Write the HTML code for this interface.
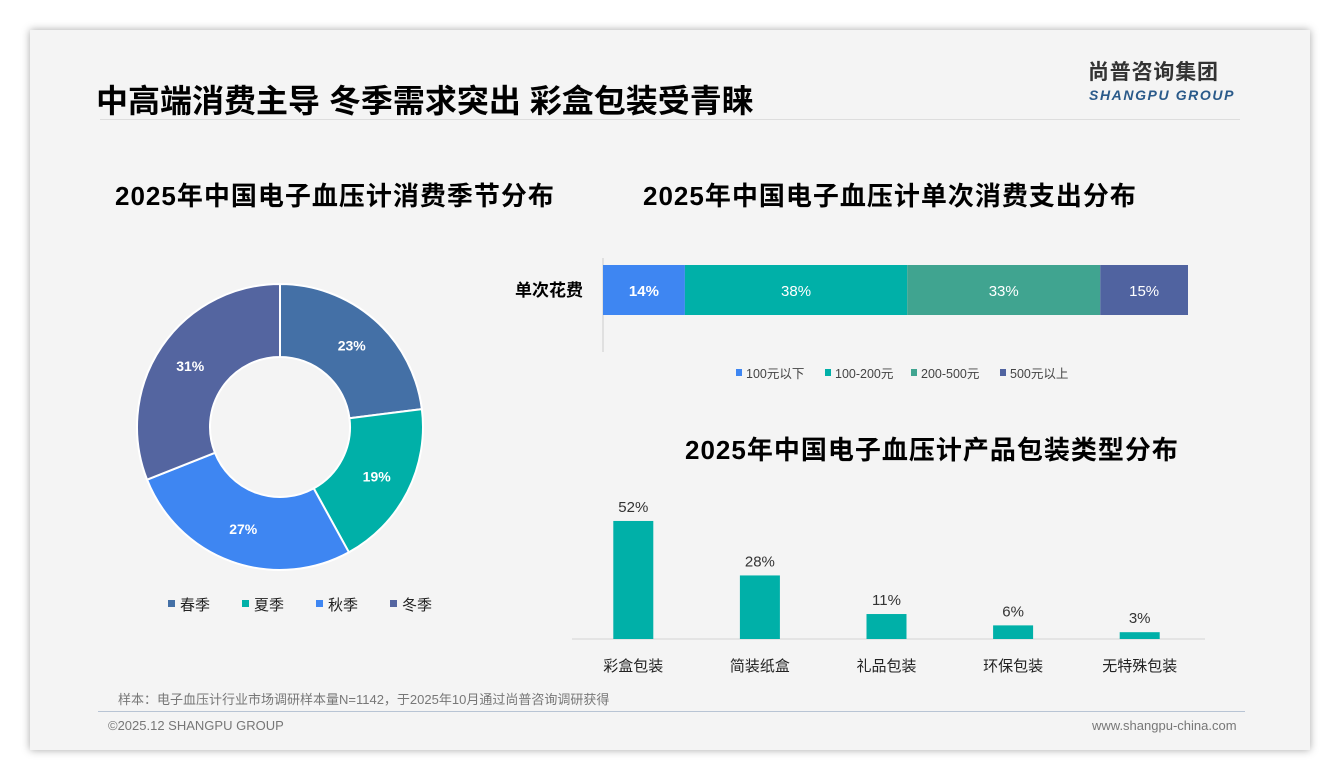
<!DOCTYPE html>
<html><head><meta charset="utf-8">
<style>
body{margin:0;width:1340px;height:780px;background:#fff;position:relative;overflow:hidden;font-family:"Liberation Sans","Noto Sans CJK SC",sans-serif}
.card{position:absolute;left:30px;top:30px;width:1280px;height:720px;background:#f4f4f4;box-shadow:0 0 8px rgba(0,0,0,0.35)}
.t{position:absolute;white-space:nowrap}
</style></head><body>
<div class="card"></div>
<div class="t" style="left:96px;top:76px;font-size:32px;font-weight:bold;color:#000;letter-spacing:0px">中高端消费主导 冬季需求突出 彩盒包装受青睐</div>
<div class="t" style="left:1088px;top:60px;font-size:21px;font-weight:bold;color:#333;letter-spacing:0.8px;line-height:26px">尚普咨询集团</div>
<div class="t" style="left:1089px;top:87px;font-size:14px;font-weight:bold;font-style:italic;color:#2a5a8a;letter-spacing:1.6px;line-height:17px">SHANGPU GROUP</div>
<div style="position:absolute;left:100px;top:119px;width:1140px;height:1px;background:#ddd"></div>
<div class="t" style="left:115px;top:176px;font-size:26px;font-weight:bold;letter-spacing:1px">2025年中国电子血压计消费季节分布</div>
<div class="t" style="left:643px;top:176px;font-size:26px;font-weight:bold;letter-spacing:1px">2025年中国电子血压计单次消费支出分布</div>
<div class="t" style="left:685px;top:430px;font-size:26px;font-weight:bold;letter-spacing:1px">2025年中国电子血压计产品包装类型分布</div>
<svg id="chart" width="1340" height="780" style="position:absolute;left:0;top:0"></svg>
<div class="t" style="left:118px;top:689px;font-size:13px;color:#777">样本：电子血压计行业市场调研样本量N=1142，于2025年10月通过尚普咨询调研获得</div>
<div style="position:absolute;left:98px;top:711px;width:1147px;height:1px;background:#b8c4d4"></div>
<div class="t" style="left:108px;top:718px;font-size:13px;color:#777">©2025.12 SHANGPU GROUP</div>
<div class="t" style="left:1092px;top:718px;font-size:13px;color:#777">www.shangpu-china.com</div>
<script>
const seasons=["春季","夏季","秋季","冬季"];
const seasonValues=[23,19,27,31];
const seasonColors=["#4470a6","#00b0a8","#3e86f2","#5465a0"];
const spendCats=["100元以下","100-200元","200-500元","500元以上"];
const spendValues=[14,38,33,15];
const spendColors=["#3e86f2","#00b0a8","#40a490","#5063a0"];
const packCats=["彩盒包装","简装纸盒","礼品包装","环保包装","无特殊包装"];
const packValues=[52,28,11,6,3];
const NS="http://www.w3.org/2000/svg";
const svg=document.getElementById('chart');
function mk(tag,attrs,parent){const e=document.createElementNS(NS,tag);for(const k in attrs)e.setAttribute(k,attrs[k]);(parent||svg).appendChild(e);return e;}
const cx=280,cy=427,R=143,r=70;
const tot=seasonValues.reduce((a,b)=>a+b,0);
let acc=0;
seasonValues.forEach((v,i)=>{
  const a0=acc/tot*2*Math.PI-Math.PI/2;acc+=v;const a1=acc/tot*2*Math.PI-Math.PI/2;
  const lg=(a1-a0)>Math.PI?1:0;
  const p=`M${cx+R*Math.cos(a0)},${cy+R*Math.sin(a0)}A${R},${R} 0 ${lg} 1 ${cx+R*Math.cos(a1)},${cy+R*Math.sin(a1)}L${cx+r*Math.cos(a1)},${cy+r*Math.sin(a1)}A${r},${r} 0 ${lg} 0 ${cx+r*Math.cos(a0)},${cy+r*Math.sin(a0)}Z`;
  const s=mk('path',{d:p,fill:seasonColors[i],stroke:'#fff','stroke-width':2});
  
  
  const am=(a0+a1)/2,rm=(R+r)/2+2;
  const t=mk('text',{x:cx+rm*Math.cos(am),y:cy+rm*Math.sin(am)+5,'text-anchor':'middle','font-size':14,'font-weight':'bold',fill:'#fff'});
  t.textContent=v+'%';
  
  
});
const lx=[168,242,316,390];
seasons.forEach((s,i)=>{
  const q=mk('rect',{x:lx[i],y:600,width:7,height:7,fill:seasonColors[i]});
  
  
  const t=mk('text',{x:lx[i]+12,y:610,'font-size':15,fill:'#222'});t.textContent=s;
  
  
});
const bx0=603,bw=585,by=265,bh=50;
mk('line',{x1:bx0,y1:258,x2:bx0,y2:352,stroke:'#ccc'});
const yl=mk('text',{x:583,y:296,'text-anchor':'end','font-size':17,'font-weight':'bold'});yl.textContent='单次花费';


const stot=spendValues.reduce((a,b)=>a+b,0);
let sx=bx0;
spendValues.forEach((v,i)=>{
  const w=v/stot*bw;
  const b=mk('rect',{x:sx,y:by,width:w,height:bh,fill:spendColors[i]});
  
  
  const t=mk('text',{x:sx+w/2,y:by+31,'text-anchor':'middle','font-size':15,fill:'#fff','font-weight':i==0?'bold':'normal'});t.textContent=v+'%';
  
  
  sx+=w;
});
const slx=[736,825,911,1000];
spendCats.forEach((c,i)=>{
  const q=mk('rect',{x:slx[i],y:369,width:6,height:7,fill:spendColors[i]});
  
  
  const t=mk('text',{x:slx[i]+10,y:378,'font-size':12.5,fill:'#444'});t.textContent=c;
  
  
});
const base=639,cx0=572,cw=633,scale=2.27;
mk('line',{x1:cx0,y1:base,x2:cx0+cw,y2:base,stroke:'#d4d4d4'});
const step=cw/packCats.length;
packCats.forEach((c,i)=>{
  const xc=cx0+step*(i+0.5)-2;
  const h=packValues[i]*scale;
  const b=mk('rect',{x:xc-20,y:base-h,width:40,height:h,fill:'#00b0a8'});
  
  
  const v=mk('text',{x:xc,y:base-h-9,'text-anchor':'middle','font-size':15,fill:'#333'});v.textContent=packValues[i]+'%';
  
  
  const t=mk('text',{x:xc,y:671,'text-anchor':'middle','font-size':15,fill:'#222'});t.textContent=c;
  
  
});
</script>
</body></html>
